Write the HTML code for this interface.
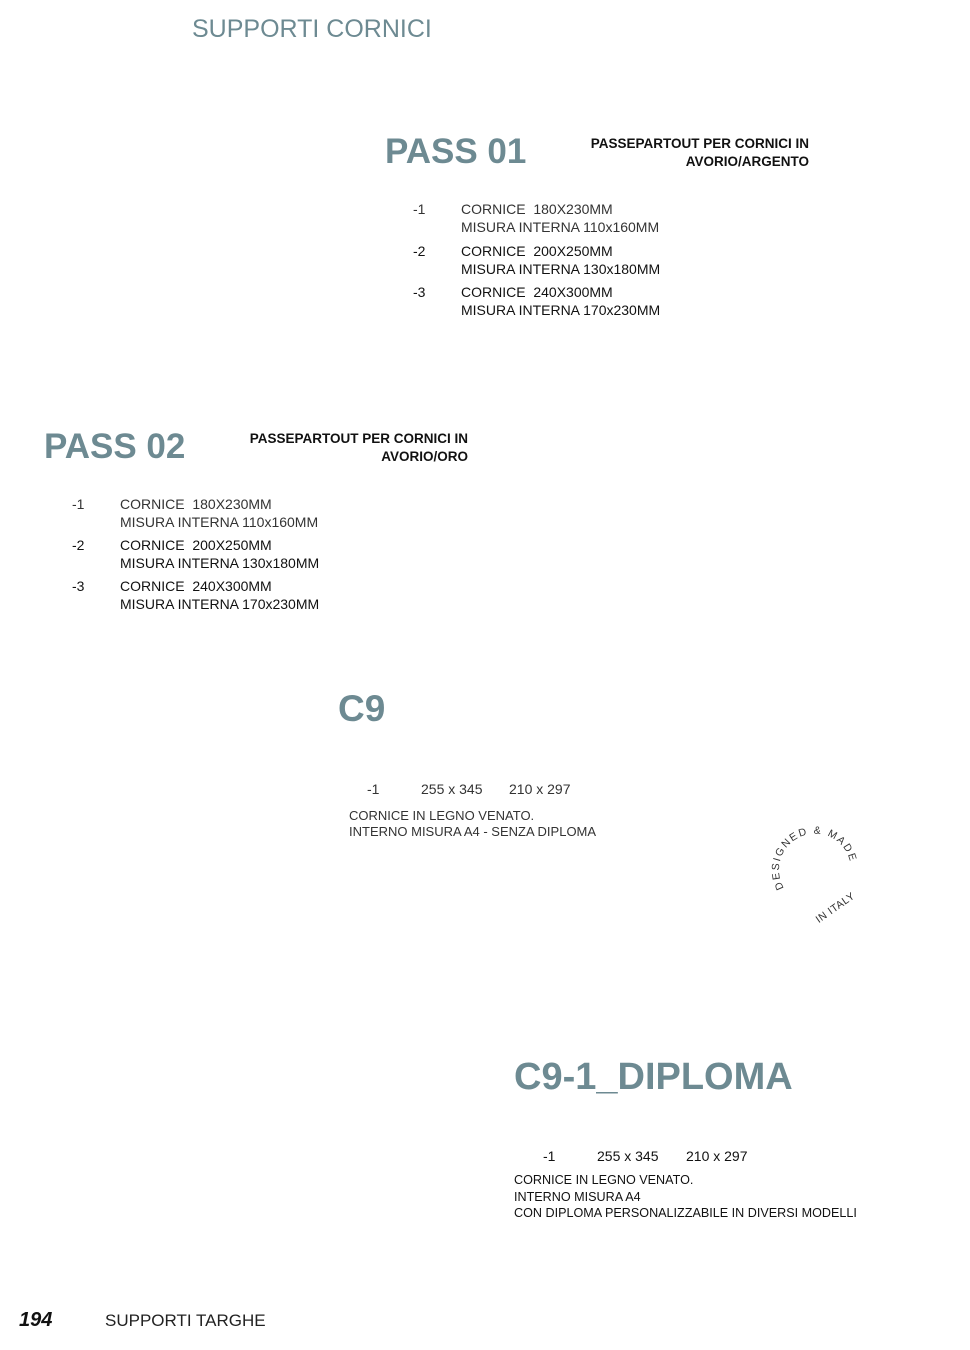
<!DOCTYPE html>
<html><head><meta charset="utf-8"><style>
body{margin:0;width:970px;height:1350px;background:#fff;position:relative;font-family:"Liberation Sans",sans-serif;color:#111;overflow:hidden}
.a{position:absolute;white-space:nowrap}
.h{color:#6d8a92;font-weight:bold}
.t{font-size:14px;line-height:18px}
.sub{font-size:13.5px;font-weight:bold;line-height:18px;text-align:right}
.g{color:#333}
</style></head><body>
<div class="a" style="left:192px;top:15px;font-size:25px;color:#6d8a92">SUPPORTI CORNICI</div>

<div class="a h" style="left:385px;top:132px;font-size:35px">PASS 01</div>
<div class="a sub" style="left:560px;top:135px;width:249px">PASSEPARTOUT PER CORNICI IN<br>AVORIO/ARGENTO</div>
<div class="a t g" style="left:413px;top:200px">-1</div>
<div class="a t g" style="left:461px;top:200px">CORNICE&nbsp; 180X230MM<br>MISURA INTERNA 110x160MM</div>
<div class="a t" style="left:413px;top:242px">-2</div>
<div class="a t" style="left:461px;top:242px">CORNICE&nbsp; 200X250MM<br>MISURA INTERNA 130x180MM</div>
<div class="a t" style="left:413px;top:283px">-3</div>
<div class="a t" style="left:461px;top:283px">CORNICE&nbsp; 240X300MM<br>MISURA INTERNA 170x230MM</div>

<div class="a h" style="left:44px;top:427px;font-size:35px">PASS 02</div>
<div class="a sub" style="left:219px;top:430px;width:249px">PASSEPARTOUT PER CORNICI IN<br>AVORIO/ORO</div>
<div class="a t g" style="left:72px;top:495px">-1</div>
<div class="a t g" style="left:120px;top:495px">CORNICE&nbsp; 180X230MM<br>MISURA INTERNA 110x160MM</div>
<div class="a t" style="left:72px;top:536px">-2</div>
<div class="a t" style="left:120px;top:536px">CORNICE&nbsp; 200X250MM<br>MISURA INTERNA 130x180MM</div>
<div class="a t" style="left:72px;top:577px">-3</div>
<div class="a t" style="left:120px;top:577px">CORNICE&nbsp; 240X300MM<br>MISURA INTERNA 170x230MM</div>

<div class="a h" style="left:338px;top:688px;font-size:37px">C9</div>
<div class="a t g" style="left:367px;top:780px">-1</div>
<div class="a t g" style="left:421px;top:780px">255 x 345</div>
<div class="a t g" style="left:509px;top:780px">210 x 297</div>
<div class="a g" style="left:349px;top:808px;font-size:13px;line-height:16px">CORNICE IN LEGNO VENATO.<br>INTERNO MISURA A4 - SENZA DIPLOMA</div>

<svg class="a" style="left:750px;top:810px" width="120" height="120" viewBox="0 0 120 120">
<defs><path id="c" d="M34,78 A36,36 0 1,1 96,78"/></defs>
<text font-family="Liberation Sans,sans-serif" font-size="10.5" fill="#333" letter-spacing="1.8"><textPath href="#c" startOffset="0">DESIGNED &amp; MADE</textPath></text>
<text font-family="Liberation Sans,sans-serif" font-size="10.5" fill="#333" letter-spacing="0.5" x="62" y="104" transform="rotate(-35 80 98)">IN ITALY</text>
</svg>

<div class="a h" style="left:514px;top:1056px;font-size:38px">C9-1_DIPLOMA</div>
<div class="a t" style="left:543px;top:1147px">-1</div>
<div class="a t" style="left:597px;top:1147px">255 x 345</div>
<div class="a t" style="left:686px;top:1147px">210 x 297</div>
<div class="a" style="left:514px;top:1172px;font-size:12.6px;line-height:16.5px">CORNICE IN LEGNO VENATO.<br>INTERNO MISURA A4<br>CON DIPLOMA PERSONALIZZABILE IN DIVERSI MODELLI</div>

<div class="a" style="left:19px;top:1309px;font-size:20px;font-weight:bold;font-style:italic">194</div>
<div class="a" style="left:105px;top:1311px;font-size:17px;color:#222">SUPPORTI TARGHE</div>
</body></html>
